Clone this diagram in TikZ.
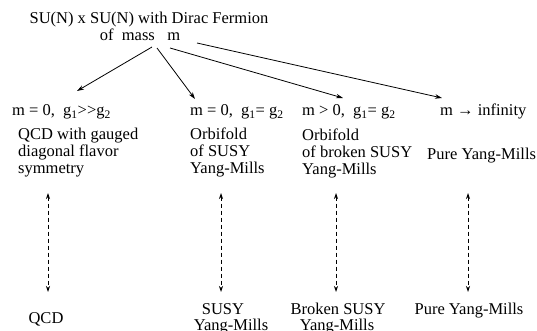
\documentclass[tikz,border=0pt]{standalone}
\usepackage{fontspec}
\setmainfont{Liberation Serif}
\usetikzlibrary{arrows.meta}
\begin{document}
\begin{tikzpicture}[x=1pt,y=-1pt,
  txt/.style={anchor=base west,inner sep=0pt,font=\fontsize{16.5}{17}\selectfont},
  ctxt/.style={anchor=base,inner sep=0pt,font=\fontsize{16.5}{17}\selectfont},
  blk/.style={anchor=base west,inner sep=0pt,align=left,font=\fontsize{16.5}{17}\selectfont},
  arr/.style={-{Stealth[length=7pt,width=4.5pt]},line width=0.8pt},
  darr/.style={{Stealth[length=6pt,width=4pt]}-{Stealth[length=6pt,width=4pt]},line width=0.8pt,dash pattern=on 4pt off 3pt}]
\useasboundingbox (0,0) rectangle (537,331);
% title
\node[ctxt] (t1) at (149,24) {SU(N) x SU(N) with Dirac Fermion};
\node[ctxt] (t2) at (140,41) {of\ \ mass\ \ \ m};
% row 2
\node[txt] (c1) at (12,116) {m = 0,\ \ g\textsubscript{1}>\kern0pt>g\textsubscript{2}};
\node[txt] (c2) at (190,116) {m = 0,\ \ g\textsubscript{1}= g\textsubscript{2}};
\node[txt] (c3) at (302,116) {m > 0,\ \ g\textsubscript{1}= g\textsubscript{2}};
\node[txt] (c4) at (440,116) {m → infinity};
% row 3 (base anchor = last line)
\node[blk] (d1) at (18,173) {QCD with gauged\\diagonal flavor\\symmetry};
\node[blk] (d2) at (190,173) {Orbifold\\of SUSY\\Yang-Mills};
\node[blk] (d3) at (302,174) {Orbifold\\of broken SUSY\\Yang-Mills};
\node[txt] (d4) at (427,159) {Pure Yang-Mills};
% bottom
\node[ctxt] (b1) at (46,323) {QCD};
\node[ctxt] (b2a) at (223,314) {SUSY};
\node[ctxt] (b2b) at (231,330) {Yang-Mills};
\node[ctxt] (b3a) at (338,314) {Broken SUSY};
\node[ctxt] (b3b) at (337,330) {Yang-Mills};
\node[ctxt] (b4) at (469,314) {Pure Yang-Mills};
% arrows from title
\coordinate (s1) at (152,47);
\coordinate (s2) at (157,48);
\coordinate (s3) at (170,48);
\coordinate (s4) at (197,43);
\coordinate (e1) at (77,91);
\coordinate (e2) at (195,99);
\coordinate (e3) at (343,98);
\coordinate (e4) at (442,98);
\draw[arr] (s1) -- (e1);
\draw[arr] (s2) -- (e2);
\draw[arr] (s3) -- (e3);
\draw[arr] (s4) -- (e4);
% dashed double arrows
\foreach \x/\n in {48/1,221/2,336/3,468/4}{
  \coordinate (u\n) at (\x,193);
  \coordinate (l\n) at (\x,292);
  \draw[darr] (u\n) -- (l\n);
}
\end{tikzpicture}
\end{document}
